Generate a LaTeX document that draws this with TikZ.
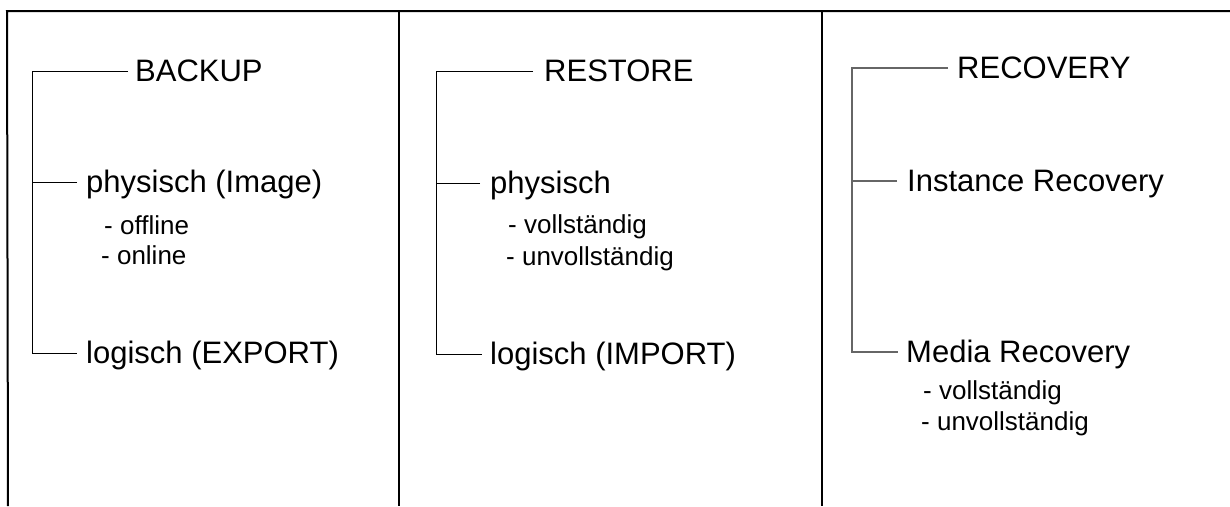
\documentclass[tikz,border=0pt]{standalone}
\usepackage{fontspec}
\setmainfont{Liberation Sans}
\begin{document}
\begin{tikzpicture}[x=1pt,y=-1pt,
  panel/.style={line width=2pt,black},
  tree/.style={line width=1pt,black},
  treegray/.style={line width=1.6pt,black!60},
  mainlbl/.style={anchor=west,inner ysep=0pt,font=\fontsize{31}{36}\selectfont,text height=21.3pt,text depth=0pt},
  sublbl/.style={anchor=base west,inner sep=0pt,font=\fontsize{26}{30}\selectfont}]
\useasboundingbox (0,0) rectangle (1230,506);
% panel frame
\coordinate (tl) at (7,11);
\coordinate (tr) at (1230,11);
\coordinate (d1t) at (399,10);
\coordinate (d2t) at (822,11);
\coordinate (bl) at (8,506);
\coordinate (d1b) at (399,506);
\coordinate (d2b) at (822,506);
\draw[panel] (bl) -- (tl) -- (tr);
\draw[panel] (d1t) -- (d1b);
\draw[panel] (d2t) -- (d2b);
% column 1
\node[mainlbl,inner xsep=7pt] (bk) at (128,71) {BACKUP};
\node[mainlbl,inner xsep=9pt] (ph1) at (77,182) {physisch (Image)};
\node[mainlbl,inner xsep=9pt] (lg1) at (77,353) {logisch (EXPORT)};
\node[sublbl] (off) at (104,234) {- offline};
\node[sublbl] (on) at (101,264) {- online};
\coordinate (c1) at (32,71);
\draw[tree] (bk.west) -- (c1) |- (lg1.west);
\draw[tree] (ph1.west) -- (ph1.west -| c1);
% column 2
\node[mainlbl,inner xsep=11pt] (rs) at (533,71) {RESTORE};
\node[mainlbl,inner xsep=10pt] (ph2) at (480,183) {physisch};
\node[mainlbl,inner xsep=8pt] (lg2) at (482,354) {logisch (IMPORT)};
\node[sublbl] (v2) at (508,233) {- vollständig};
\node[sublbl] (u2) at (506,265) {- unvollständig};
\coordinate (c2) at (436,71);
\draw[tree] (rs.west) -- (c2) |- (lg2.west);
\draw[tree] (ph2.west) -- (ph2.west -| c2);
% column 3
\node[mainlbl,inner xsep=9pt] (rc) at (948,68) {RECOVERY};
\node[mainlbl,inner xsep=10pt] (ir) at (897,181) {Instance Recovery};
\node[mainlbl,inner xsep=8pt] (mr) at (898,352) {Media Recovery};
\node[sublbl] (v3) at (923,399) {- vollständig};
\node[sublbl] (u3) at (921,430) {- unvollständig};
\coordinate (c3) at (852,68);
\draw[treegray] (rc.west) -- (c3) |- (mr.west);
\draw[treegray] (ir.west) -- (ir.west -| c3);
\end{tikzpicture}
\end{document}
